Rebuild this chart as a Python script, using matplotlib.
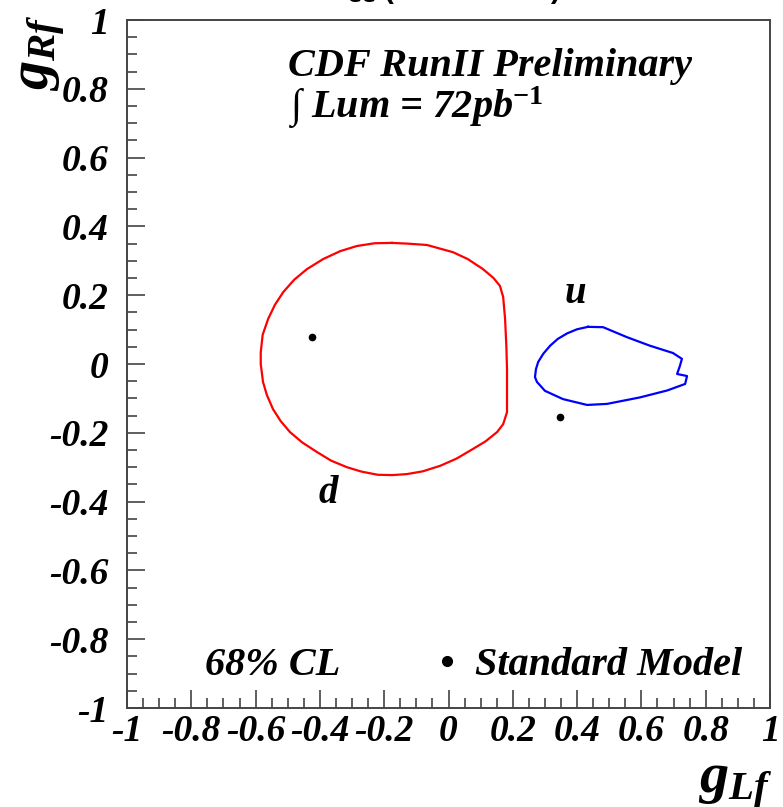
import numpy as np
import matplotlib
matplotlib.use("Agg")
import matplotlib.pyplot as plt
from matplotlib.ticker import FixedLocator, FixedFormatter, MultipleLocator

plt.rcParams["axes.unicode_minus"] = False
plt.rcParams["mathtext.fontset"] = "custom"
plt.rcParams["mathtext.it"] = "Liberation Serif:italic:bold"
plt.rcParams["mathtext.rm"] = "Liberation Serif:bold"
plt.rcParams["mathtext.bf"] = "Liberation Serif:bold"

# 68% CL contour for down-type quark couplings (g_L, g_R)
d_gl = [-0.176, -0.129, -0.067, 0.014, 0.060, 0.107, 0.140, 0.160, 0.170, 0.176,
        0.180, 0.182, 0.182, 0.182, 0.170, 0.151, 0.115, 0.076, 0.025, -0.026,
        -0.080, -0.129, -0.175, -0.220, -0.270, -0.316, -0.365, -0.409, -0.455, -0.493,
        -0.522, -0.546, -0.565, -0.577, -0.584, -0.584, -0.578, -0.561, -0.540, -0.514,
        -0.480, -0.440, -0.390, -0.337, -0.285, -0.230, -0.176]
d_gr = [0.352, 0.350, 0.346, 0.325, 0.305, 0.276, 0.250, 0.227, 0.195, 0.131,
        0.050, -0.015, -0.080, -0.140, -0.175, -0.198, -0.225, -0.247, -0.275, -0.296,
        -0.312, -0.320, -0.323, -0.322, -0.313, -0.300, -0.281, -0.256, -0.228, -0.198,
        -0.166, -0.131, -0.090, -0.052, 0.000, 0.034, 0.085, 0.131, 0.172, 0.209,
        0.245, 0.276, 0.305, 0.328, 0.343, 0.351, 0.352]

# 68% CL contour for up-type quark couplings
u_gl = [0.434, 0.481, 0.555, 0.627, 0.698, 0.726, 0.720, 0.711, 0.742, 0.736,
        0.680, 0.596, 0.493, 0.431, 0.356, 0.300, 0.275, 0.269, 0.272, 0.279,
        0.295, 0.316, 0.340, 0.369, 0.400, 0.434]
u_gr = [0.108, 0.107, 0.078, 0.053, 0.032, 0.015, -0.005, -0.029, -0.035, -0.058,
        -0.077, -0.097, -0.116, -0.119, -0.102, -0.078, -0.052, -0.038, -0.015, 0.006,
        0.030, 0.053, 0.073, 0.089, 0.101, 0.108]

# Standard Model predictions
sm_gl = [-0.4244, 0.3459]
sm_gr = [0.0771, -0.1541]

tick_vals = [-1, -0.8, -0.6, -0.4, -0.2, 0, 0.2, 0.4, 0.6, 0.8, 1]
tick_labels = ["-1", "-0.8", "-0.6", "-0.4", "-0.2", "0", "0.2", "0.4", "0.6", "0.8", "1"]

W, H = 783, 807
fig = plt.figure(figsize=(W / 100, H / 100), dpi=100)
ax = fig.add_axes([127 / W, 1 - 708 / H, (770 - 127) / W, (708 - 20) / H])

ax.plot(d_gl, d_gr, color="#ff0000", lw=1.6)
ax.plot(u_gl, u_gr, color="#0000ff", lw=1.6)
ax.plot(sm_gl, sm_gr, "o", color="black", ms=4.5, ls="none")

ax.set_xlim(-1, 1)
ax.set_ylim(-1, 1)

tick_font = dict(family="Liberation Serif", weight="bold", style="italic", size=27)
for axis in (ax.xaxis, ax.yaxis):
    axis.set_major_locator(FixedLocator(tick_vals))
    axis.set_major_formatter(FixedFormatter(tick_labels))
    axis.set_minor_locator(MultipleLocator(0.05))
for lab in ax.get_xticklabels() + ax.get_yticklabels():
    lab.set_fontproperties(matplotlib.font_manager.FontProperties(**tick_font))

ax.tick_params(which="both", direction="in", top=False, right=False, color="#333333", width=1.1)
ax.tick_params(which="major", length=13)
ax.tick_params(which="minor", length=7)
ax.tick_params(axis="y", pad=13)
ax.tick_params(axis="x", pad=4)
for sp in ax.spines.values():
    sp.set_color("#444444")
    sp.set_linewidth(1.4)

txt = dict(family="Liberation Serif", weight="bold", style="italic", color="black")
ax.text(0.25, 0.919, "CDF RunII Preliminary", transform=ax.transAxes, fontsize=29, **txt)
ax.text(0.25, 0.858, r"$\int$ Lum = 72pb$^{-1}$", transform=ax.transAxes, fontsize=29, **txt)
ax.text(0.3126, 0.298, "d", transform=ax.transAxes, fontsize=28, ha="center", **txt)
ax.text(0.6967, 0.589, "u", transform=ax.transAxes, fontsize=28, ha="center", **txt)
ax.text(0.121, 0.048, "68% CL", transform=ax.transAxes, fontsize=29, **txt)
ax.plot([0.498], [0.068], "o", color="black", ms=7, transform=ax.transAxes)
ax.text(0.541, 0.048, "Standard Model", transform=ax.transAxes, fontsize=29, **txt)

# axis titles
fig.text(772 / W, 1 - 793 / H, r"$g_{Lf}$", ha="right", va="baseline", fontsize=42)
fig.text(40 / W, 1 - 14 / H, r"$g_{Rf}$", ha="center", va="top", rotation=90, fontsize=42)

# plot title, mostly above the top edge
fig.text(318 / W, 1 + 2 / H, r"$\mathbf{M_{ee}}$ (40-600 GeV)", ha="left", va="baseline",
         family="Liberation Sans", weight="bold", fontsize=21, math_fontfamily="dejavusans")

fig.savefig("out.png", dpi=100, facecolor="white")
